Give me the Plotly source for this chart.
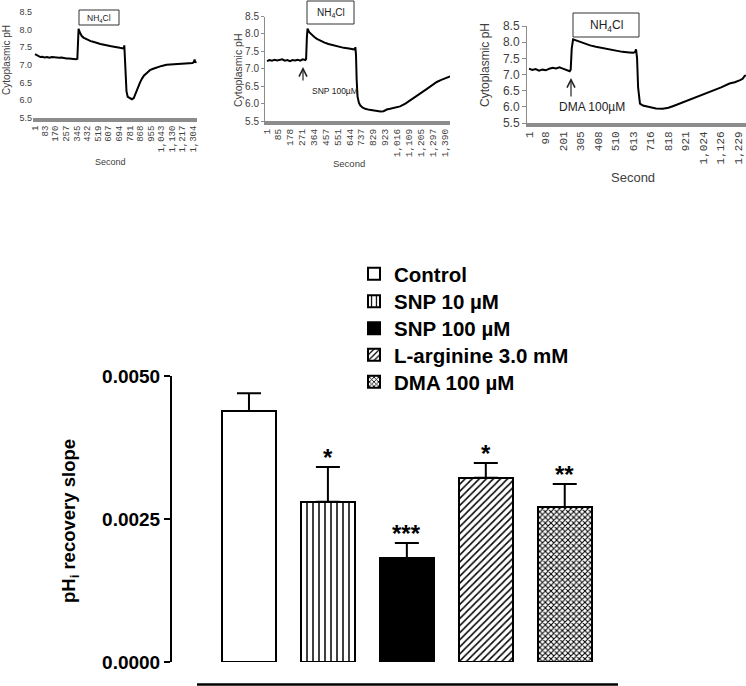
import plotly.graph_objects as go

W, H = 746, 686

# ---------------- data: top traces (seconds, cytoplasmic pH) ----------------
ctrl_t = [1, 15, 30, 45, 60, 80, 100, 120, 140, 160,
          180, 200, 220, 240, 260, 280, 300, 320, 340, 350,
          354, 360, 370, 385, 400, 420, 440, 460, 480, 500,
          520, 540, 560, 580, 600, 620, 640, 660, 680, 700,
          720, 732, 737, 741, 747, 755, 765, 780, 800, 815,
          830, 848, 866, 884, 900, 925, 948, 975, 1010, 1045,
          1085, 1120, 1160, 1200, 1240, 1280, 1300, 1310, 1316, 1322,
          1328]
ctrl_ph = [7.30, 7.27, 7.24, 7.22, 7.23, 7.21, 7.22, 7.20, 7.22, 7.21,
           7.22, 7.20, 7.21, 7.19, 7.18, 7.18, 7.17, 7.18, 7.16, 7.17,
           7.60, 8.02, 7.92, 7.82, 7.77, 7.73, 7.70, 7.67, 7.65, 7.62,
           7.61, 7.59, 7.57, 7.56, 7.55, 7.53, 7.52, 7.50, 7.50, 7.48,
           7.47, 7.46, 7.55, 7.30, 6.70, 6.25, 6.10, 6.06, 6.03, 6.06,
           6.20, 6.35, 6.50, 6.62, 6.70, 6.78, 6.85, 6.89, 6.94, 6.97,
           7.00, 7.01, 7.02, 7.04, 7.05, 7.06, 7.05, 7.08, 7.15, 7.06,
           7.10]

snp_t = [1, 20, 40, 60, 80, 100, 120, 140, 160, 180,
         200, 220, 240, 260, 280, 300, 306, 312, 317, 330,
         350, 370, 390, 420, 450, 480, 520, 560, 600, 640,
         670, 685, 690, 695, 700, 707, 718, 728, 745, 767,
         800, 830, 858, 885, 910, 935, 961, 1000, 1039, 1080,
         1117, 1160, 1200, 1240, 1280, 1325, 1360, 1400, 1429]
snp_ph = [7.22, 7.25, 7.23, 7.26, 7.24, 7.25, 7.27, 7.23, 7.25, 7.22,
          7.25, 7.24, 7.26, 7.23, 7.27, 7.25, 7.28, 7.90, 8.15, 8.05,
          7.97, 7.91, 7.86, 7.80, 7.75, 7.71, 7.67, 7.63, 7.60, 7.58,
          7.56, 7.55, 7.62, 7.40, 6.70, 6.20, 6.02, 5.95, 5.89, 5.85,
          5.82, 5.80, 5.79, 5.77, 5.78, 5.83, 5.85, 5.88, 5.92, 6.00,
          6.09, 6.18, 6.30, 6.40, 6.50, 6.62, 6.68, 6.74, 6.78]

dma_t = [1, 20, 40, 60, 80, 100, 120, 140, 160, 180,
         200, 215, 230, 240, 246, 252, 260, 280, 300, 330,
         360, 394, 430, 460, 492, 520, 550, 590, 615, 625,
         630, 636, 642, 653, 670, 689, 720, 747, 787, 820,
         846, 875, 905, 945, 983, 1030, 1081, 1130, 1179, 1210,
         1238, 1255, 1267, 1275]
dma_ph = [7.18, 7.14, 7.17, 7.12, 7.15, 7.13, 7.18, 7.21, 7.19, 7.22,
          7.18, 7.15, 7.12, 7.10, 7.15, 7.80, 8.09, 8.05, 8.00, 7.95,
          7.90, 7.86, 7.82, 7.78, 7.76, 7.72, 7.70, 7.68, 7.67, 7.70,
          7.78, 7.50, 6.60, 6.10, 6.04, 6.02, 5.97, 5.95, 5.94, 5.97,
          6.02, 6.08, 6.15, 6.23, 6.31, 6.40, 6.49, 6.60, 6.72, 6.76,
          6.82, 6.86, 6.95, 6.98]

ctrl_ticks = [1, 83, 170, 257, 345, 432, 519, 607, 694, 781, 868, 955, 1043, 1130, 1217, 1304]
snp_ticks = [1, 85, 178, 271, 364, 457, 551, 644, 737, 829, 923, 1016, 1109, 1205, 1297, 1390]
dma_ticks = [1, 98, 201, 305, 408, 510, 613, 716, 818, 921, 1024, 1126, 1229]
ph_ticks = [5.5, 6.0, 6.5, 7.0, 7.5, 8.0, 8.5]

# ---------------- data: bar chart ----------------
groups = ["Control", "SNP 10 \u00b5M", "SNP 100 \u00b5M", "L-arginine 3.0 mM", "DMA 100 \u00b5M"]
slopes = [0.00439, 0.00280, 0.00182, 0.00322, 0.00271]
sem = [0.00031, 0.00061, 0.00026, 0.00026, 0.00040]
sig = ["", "*", "***", "*", "**"]
slope_ticks = [0.0, 0.0025, 0.0050]


def px(x):
    return x / W


def py(y):
    return 1 - y / H


fig = go.Figure()

GRAY = "#8c8c8c"
TXT = "#404040"

# top traces
fig.add_trace(go.Scatter(x=ctrl_t, y=ctrl_ph, mode="lines", line=dict(color="black", width=2),
                         showlegend=False, xaxis="x", yaxis="y"))
fig.add_trace(go.Scatter(x=snp_t, y=snp_ph, mode="lines", line=dict(color="black", width=2),
                         showlegend=False, xaxis="x2", yaxis="y2"))
fig.add_trace(go.Scatter(x=dma_t, y=dma_ph, mode="lines", line=dict(color="black", width=2),
                         showlegend=False, xaxis="x3", yaxis="y3"))

# bars
patterns = [
    dict(shape="", fgcolor="black", bgcolor="white"),
    dict(shape="|", fgcolor="black", bgcolor="white", size=6, solidity=0.25),
    dict(shape="", fgcolor="black", bgcolor="black"),
    dict(shape="/", fgcolor="black", bgcolor="white", size=5, solidity=0.3),
    dict(shape="x", fgcolor="black", bgcolor="white", size=4, solidity=0.45),
]
fills = ["white", "white", "black", "white", "white"]
legend_names = ["legend", "legend2", "legend3", "legend4", "legend5"]
for i, g in enumerate(groups):
    fig.add_trace(go.Bar(
        x=[i], y=[slopes[i]], name=g, width=0.68, legend=legend_names[i],
        marker=dict(color=fills[i], line=dict(color="black", width=2), pattern=patterns[i]),
        error_y=dict(type="data", symmetric=False, array=[sem[i]], arrayminus=[0],
                     color="black", thickness=2, width=12),
        xaxis="x4", yaxis="y4",
    ))

tick_font_mono = lambda s: dict(family="Liberation Mono", size=s, color=TXT)
tick_font_sans = lambda s: dict(family="Liberation Sans", size=s, color=TXT)

common_x = dict(showgrid=False, zeroline=False, showline=True, linecolor=GRAY, linewidth=4,
                ticks="", tickangle=-90, automargin=False)
common_y = dict(showgrid=False, zeroline=False, range=[5.5, 8.5], tickvals=ph_ticks, tickformat=".1f",
                automargin=False)

legend_rows = [274, 301.5, 328.5, 355, 382]
legends = {}
for name, row in zip(legend_names, legend_rows):
    legends[name] = dict(x=px(354), y=py(row), xanchor="left", yanchor="middle", bgcolor="rgba(0,0,0,0)",
                         font=dict(family="Liberation Sans", size=20.5, color="black", weight="bold"),
                         tracegroupgap=0, borderwidth=0)

fig.update_layout(
    template="none",
    width=W, height=H, autosize=False,
    margin=dict(l=0, r=0, t=0, b=0, pad=0),
    font=dict(family="Liberation Sans", color=TXT),
    paper_bgcolor="white", plot_bgcolor="rgba(0,0,0,0)",
    xaxis=dict(domain=[px(33), px(197)], range=[-15.5, 1336], tickvals=ctrl_ticks,
               ticktext=[f"{v:,}" for v in ctrl_ticks], tickfont=tick_font_mono(9), anchor="y", **common_x),
    yaxis=dict(domain=[py(118), py(11.7)], anchor="x", showline=False, ticks="",
               tickfont=tick_font_sans(9), **common_y),
    xaxis2=dict(domain=[px(265), px(450)], range=[-14.6, 1428], tickvals=snp_ticks,
                ticktext=[f"{v:,}" for v in snp_ticks], tickfont=tick_font_mono(9.5), anchor="y2", **common_x),
    yaxis2=dict(domain=[py(121), py(16.5)], anchor="x2", showline=True, linecolor=GRAY, linewidth=1,
                ticks="outside", ticklen=3, tickcolor=GRAY, tickfont=tick_font_sans(10), **common_y),
    xaxis3=dict(domain=[px(527), px(746)], range=[-10.75, 1276], tickvals=dma_ticks,
                ticktext=[f"{v:,}" for v in dma_ticks], tickfont=tick_font_mono(11), anchor="y3", **common_x),
    yaxis3=dict(domain=[py(123), py(26)], anchor="x3", showline=True, linecolor=GRAY, linewidth=1,
                ticks="outside", ticklen=4, tickcolor=GRAY, tickfont=tick_font_sans(12), **common_y),
    xaxis4=dict(domain=[px(172), px(620)], range=[-0.975, 4.70], visible=False, anchor="y4",
                automargin=False),
    yaxis4=dict(domain=[py(662), py(376)], range=[0, 0.005], anchor="x4", tickvals=slope_ticks,
                tickformat=".4f", showline=True, linecolor="black", linewidth=2, ticks="outside",
                ticklen=6, tickwidth=2, tickcolor="black", showgrid=False, zeroline=False, automargin=False,
                tickfont=dict(family="Liberation Sans", size=19, color="black", weight="bold")),
    bargap=0,
    **legends,
)

ann = []


def txt(x, y, text, size, angle=0, color=TXT, bold=False, family="Liberation Sans"):
    ann.append(dict(x=px(x), y=py(y), xref="paper", yref="paper", text=text, showarrow=False,
                    textangle=angle, xanchor="center", yanchor="middle",
                    font=dict(family=family, size=size, color=color, weight="bold" if bold else "normal")))


# top panel labels
txt(7, 60, "Cytoplasmic pH", 10, angle=-90)
txt(111, 162, "Second", 9)
txt(238, 70, "Cytoplasmic pH", 10.5, angle=-90)
txt(349, 164, "Second", 9.5)
txt(485, 65, "Cytoplasmic pH", 12, angle=-90)
txt(633, 177, "Second", 13)

# NH4Cl boxes
boxes = [(79, 119, 10, 25, 8.5), (307, 354, 1, 24, 10), (573, 639, 13, 37, 12)]
shapes = []
for x0, x1, y0, y1, fs in boxes:
    shapes.append(dict(type="rect", xref="paper", yref="paper", x0=px(x0), x1=px(x1), y0=py(y1), y1=py(y0),
                       line=dict(color="#333", width=1), fillcolor="white", layer="above"))
    txt((x0 + x1) / 2, (y0 + y1) / 2 + 1, "NH<sub>4</sub>Cl", fs, color="#222")

# drug arrows and labels
for hx, hy, ty in [(303, 67, 82), (571, 78, 98)]:
    ann.append(dict(x=px(hx), y=py(hy), xref="paper", yref="paper", ax=0, ay=ty - hy,
                    axref="pixel", ayref="pixel", text="", showarrow=True, arrowhead=5, arrowsize=1.3,
                    arrowwidth=1.2, arrowcolor="#222"))
txt(335, 91, "SNP 100\u00b5M", 8.5, color="#222")
txt(592, 107, "DMA 100\u00b5M", 12, color="#222")

# bar chart y title
txt(70, 521, "pH<sub>i</sub> recovery slope", 18.5, angle=-90, color="black", bold=True)

# significance stars
for i, s in enumerate(sig):
    if s:
        ann.append(dict(x=i, y=slopes[i] + sem[i], xref="x4", yref="y4", text=s, showarrow=False,
                        yanchor="bottom", yshift=-6,
                        font=dict(family="Liberation Sans", size=24, color="black", weight="bold")))

# bottom rule
shapes.append(dict(type="line", xref="paper", yref="paper", x0=px(197), x1=px(618), y0=py(684.5), y1=py(684.5),
                   line=dict(color="black", width=2.5)))

fig.update_layout(annotations=ann, shapes=shapes)

fig.write_html("out.html", config={"displayModeBar": False},
               post_script="document.body.style.margin='0';document.body.style.padding='0';")
